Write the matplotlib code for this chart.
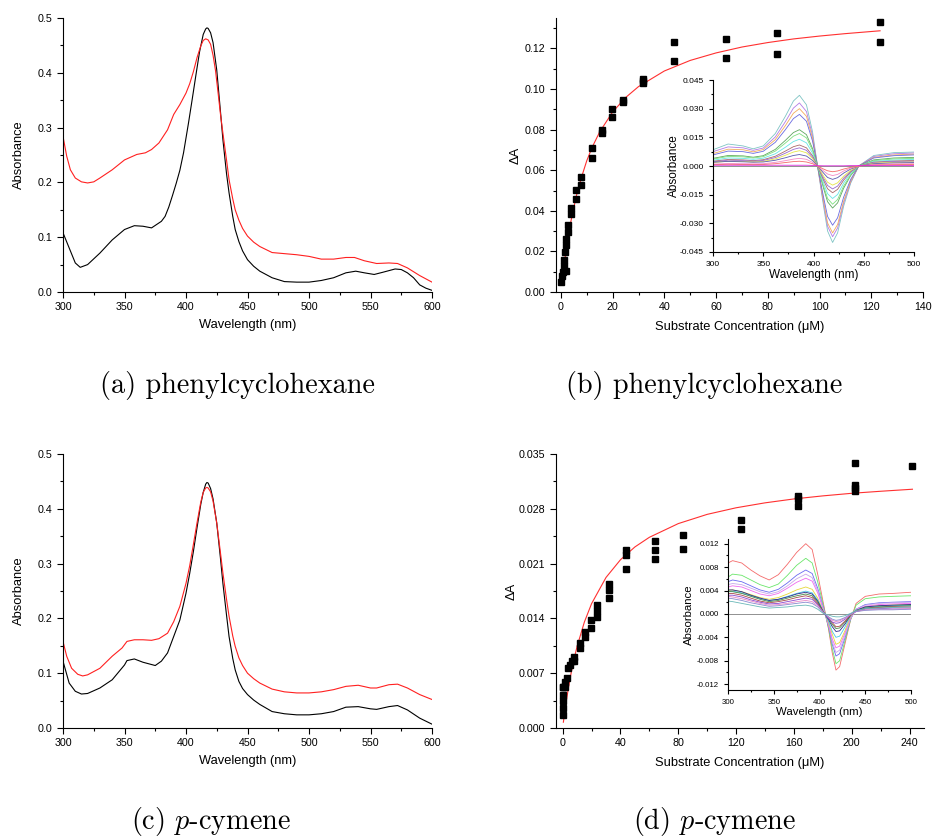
import matplotlib
matplotlib.use("Agg")
import matplotlib.pyplot as plt
from matplotlib.ticker import MultipleLocator, FormatStrFormatter

plt.rcParams["font.family"] = ["Liberation Sans", "DejaVu Sans"]
plt.rcParams["mathtext.fontset"] = "cm"

# ==========================================
# Data: UV-vis spectra (a) phenylcyclohexane
# ==========================================

wl_a_black = [300, 310, 314, 320, 330, 340, 350, 358, 365, 372, 380, 383, 386, 389, 392, 395, 398, 400,
              402, 405, 408, 411, 414, 416, 417, 418, 420, 422, 425, 428, 430, 433, 435, 438, 440, 443,
              446, 450, 455, 460, 470, 480, 490, 500, 510, 520, 530, 538, 545, 553, 560, 570, 575, 580,
              585, 590, 595, 600]
abs_a_black = [0.108, 0.053, 0.045, 0.050, 0.071, 0.095, 0.114, 0.121, 0.120, 0.117, 0.129, 0.138, 0.155,
               0.176, 0.198, 0.222, 0.254, 0.281, 0.308, 0.351, 0.395, 0.438, 0.470, 0.480, 0.482, 0.481,
               0.473, 0.455, 0.405, 0.330, 0.278, 0.215, 0.181, 0.138, 0.114, 0.092, 0.075, 0.059, 0.047,
               0.038, 0.026, 0.019, 0.018, 0.018, 0.021, 0.026, 0.035, 0.038, 0.035, 0.032, 0.036, 0.042,
               0.041, 0.035, 0.026, 0.013, 0.007, 0.003]

wl_a_red = [300, 303, 306, 310, 315, 320, 325, 330, 340, 350, 360, 367, 372, 378, 385, 390, 395, 400, 403,
            406, 409, 412, 414, 416, 418, 420, 422, 424, 426, 428, 430, 433, 435, 438, 440, 443, 446, 450,
            455, 460, 470, 480, 490, 500, 510, 520, 530, 537, 545, 555, 565, 572, 580, 590, 600]
abs_a_red = [0.284, 0.248, 0.223, 0.208, 0.201, 0.199, 0.201, 0.208, 0.223, 0.241, 0.251, 0.254, 0.260,
             0.272, 0.296, 0.324, 0.342, 0.363, 0.380, 0.402, 0.428, 0.449, 0.459, 0.462, 0.460, 0.452,
             0.432, 0.404, 0.365, 0.325, 0.290, 0.240, 0.205, 0.170, 0.150, 0.131, 0.116, 0.102, 0.091,
             0.083, 0.072, 0.070, 0.068, 0.065, 0.060, 0.060, 0.063, 0.063, 0.057, 0.052, 0.053, 0.052,
             0.044, 0.030, 0.018]

# ==========================================
# Data: UV-vis spectra (c) p-cymene
# ==========================================

wl_c_black = [300, 305, 310, 315, 320, 330, 340, 350, 352, 358, 365, 375, 380, 385, 390, 395, 400, 403,
              406, 409, 412, 414, 416, 417, 418, 420, 422, 425, 428, 430, 433, 435, 438, 440, 443, 446,
              450, 455, 460, 470, 480, 490, 500, 510, 520, 530, 540, 550, 555, 565, 572, 580, 590, 600]
abs_c_black = [0.122, 0.082, 0.067, 0.062, 0.063, 0.073, 0.088, 0.115, 0.123, 0.126, 0.120, 0.114, 0.122,
               0.137, 0.167, 0.197, 0.246, 0.282, 0.322, 0.366, 0.408, 0.430, 0.445, 0.448, 0.447, 0.437,
               0.418, 0.374, 0.310, 0.264, 0.205, 0.167, 0.127, 0.106, 0.085, 0.072, 0.061, 0.051, 0.043,
               0.030, 0.026, 0.024, 0.024, 0.026, 0.030, 0.038, 0.039, 0.035, 0.034, 0.039, 0.041, 0.033,
               0.018, 0.007]

wl_c_red = [300, 303, 307, 312, 316, 320, 330, 340, 348, 352, 358, 365, 372, 378, 385, 390, 395, 400, 403,
            406, 409, 412, 414, 416, 417, 418, 420, 422, 425, 428, 430, 433, 435, 438, 440, 443, 446, 450,
            455, 460, 470, 480, 490, 500, 510, 520, 530, 540, 550, 555, 565, 572, 580, 590, 600]
abs_c_red = [0.158, 0.131, 0.109, 0.098, 0.095, 0.097, 0.109, 0.131, 0.146, 0.158, 0.161, 0.161, 0.160,
             0.163, 0.173, 0.194, 0.222, 0.264, 0.296, 0.335, 0.375, 0.412, 0.430, 0.438, 0.439, 0.438,
             0.431, 0.414, 0.374, 0.320, 0.283, 0.234, 0.204, 0.168, 0.149, 0.128, 0.114, 0.100, 0.090,
             0.082, 0.071, 0.066, 0.064, 0.064, 0.066, 0.070, 0.076, 0.078, 0.073, 0.073, 0.079, 0.080,
             0.073, 0.061, 0.052]

# ==========================================
# Data: binding titration (b) phenylcyclohexane
# ==========================================

conc_b = [0.1, 0.4, 0.8, 1.0, 1.3, 1.7, 1.9, 1.9, 2.0, 2.7, 2.7, 3.9, 3.9, 5.9, 5.9, 7.9, 7.9, 11.9, 11.9,
          15.9, 15.9, 19.9, 19.9, 23.9, 23.9, 31.9, 31.9, 31.9, 43.7, 43.7, 63.7, 63.7, 83.6, 83.6,
          123.4, 123.4]
dA_b = [0.0051, 0.0079, 0.0100, 0.0128, 0.0160, 0.0195, 0.0231, 0.0259, 0.0103, 0.0295, 0.0328, 0.0384,
        0.0412, 0.0456, 0.0503, 0.0528, 0.0569, 0.0659, 0.0708, 0.0785, 0.0798, 0.0861, 0.0900, 0.0934,
        0.0946, 0.1028, 0.1040, 0.1048, 0.1139, 0.1234, 0.1151, 0.1248, 0.1174, 0.1275, 0.1233, 0.1328]

fit_conc_b = [0.3, 1, 2, 3, 4, 6, 8, 10, 12, 15, 20, 25, 30, 40, 50, 60, 70, 80, 90, 100, 110, 123.4]
fit_dA_b = [0.0035, 0.0110, 0.0205, 0.0286, 0.0357, 0.0475, 0.0567, 0.0647, 0.0711, 0.0789, 0.0887,
            0.0958, 0.1012, 0.1089, 0.1141, 0.1178, 0.1207, 0.1229, 0.1247, 0.1261, 0.1273, 0.1287]

# inset (b): difference spectra
wl_ins_b = [300, 315, 330, 340, 350, 362, 372, 380, 386, 393, 399, 404, 410, 414, 419, 424, 430, 437,
            445, 460, 480, 500]
diff_b = [
    [0.0085, 0.0115, 0.0105, 0.0090, 0.0105, 0.0170, 0.0260, 0.0340, 0.0370, 0.0320, 0.0180, 0.0000,
     -0.0210, -0.0340, -0.0400, -0.0350, -0.0210, -0.0090, 0.0000, 0.0055, 0.0070, 0.0073],
    [0.0075, 0.0100, 0.0095, 0.0082, 0.0094, 0.0152, 0.0232, 0.0303, 0.0330, 0.0285, 0.0160, 0.0000,
     -0.0194, -0.0315, -0.0370, -0.0324, -0.0194, -0.0083, 0.0000, 0.0050, 0.0064, 0.0068],
    [0.0065, 0.0088, 0.0085, 0.0074, 0.0086, 0.0138, 0.0211, 0.0276, 0.0300, 0.0260, 0.0146, 0.0000,
     -0.0184, -0.0298, -0.0350, -0.0306, -0.0184, -0.0079, 0.0000, 0.0045, 0.0058, 0.0062],
    [0.0058, 0.0078, 0.0075, 0.0066, 0.0077, 0.0124, 0.0190, 0.0248, 0.0270, 0.0234, 0.0131, 0.0000,
     -0.0163, -0.0264, -0.0310, -0.0271, -0.0163, -0.0070, 0.0000, 0.0042, 0.0054, 0.0058],
    [0.0040, 0.0055, 0.0053, 0.0046, 0.0054, 0.0087, 0.0134, 0.0175, 0.0190, 0.0164, 0.0092, 0.0000,
     -0.0116, -0.0187, -0.0220, -0.0193, -0.0116, -0.0050, 0.0000, 0.0032, 0.0042, 0.0045],
    [0.0036, 0.0050, 0.0048, 0.0042, 0.0049, 0.0078, 0.0120, 0.0156, 0.0170, 0.0147, 0.0083, 0.0000,
     -0.0105, -0.0170, -0.0200, -0.0175, -0.0105, -0.0045, 0.0000, 0.0028, 0.0037, 0.0040],
    [0.0030, 0.0042, 0.0040, 0.0035, 0.0041, 0.0064, 0.0098, 0.0128, 0.0140, 0.0121, 0.0068, 0.0000,
     -0.0089, -0.0145, -0.0170, -0.0149, -0.0089, -0.0038, 0.0000, 0.0024, 0.0031, 0.0034],
    [0.0025, 0.0034, 0.0032, 0.0028, 0.0033, 0.0051, 0.0078, 0.0101, 0.0110, 0.0095, 0.0054, 0.0000,
     -0.0074, -0.0119, -0.0140, -0.0122, -0.0074, -0.0031, 0.0000, 0.0020, 0.0026, 0.0029],
    [0.0022, 0.0030, 0.0028, 0.0025, 0.0029, 0.0044, 0.0067, 0.0087, 0.0095, 0.0082, 0.0046, 0.0000,
     -0.0063, -0.0102, -0.0120, -0.0105, -0.0063, -0.0027, 0.0000, 0.0018, 0.0023, 0.0025],
    [0.0018, 0.0025, 0.0024, 0.0021, 0.0024, 0.0037, 0.0056, 0.0073, 0.0080, 0.0069, 0.0039, 0.0000,
     -0.0053, -0.0085, -0.0100, -0.0088, -0.0053, -0.0023, 0.0000, 0.0015, 0.0019, 0.0021],
    [0.0020, 0.0024, 0.0022, 0.0020, 0.0021, 0.0030, 0.0043, 0.0055, 0.0060, 0.0052, 0.0029, 0.0000,
     -0.0037, -0.0060, -0.0070, -0.0061, -0.0037, -0.0016, 0.0000, 0.0012, 0.0016, 0.0018],
    [0.0010, 0.0013, 0.0012, 0.0011, 0.0012, 0.0019, 0.0028, 0.0036, 0.0040, 0.0035, 0.0019, 0.0000,
     -0.0026, -0.0042, -0.0050, -0.0044, -0.0026, -0.0011, 0.0000, 0.0008, 0.0011, 0.0012],
    [0.0007, 0.0009, 0.0008, 0.0007, 0.0008, 0.0012, 0.0018, 0.0023, 0.0025, 0.0021, 0.0012, 0.0000,
     -0.0016, -0.0025, -0.0030, -0.0026, -0.0016, -0.0007, 0.0000, 0.0005, 0.0007, 0.0008],
    [0.0004, 0.0004, 0.0004, 0.0004, 0.0004, 0.0004, 0.0004, 0.0004, 0.0004, 0.0004, 0.0003, 0.0002,
     0.0001, 0.0001, 0.0001, 0.0001, 0.0001, 0.0002, 0.0002, 0.0003, 0.0003, 0.0003],
]
colors_b = ["#7ec4c4", "#b27ae6", "#f2ac5c", "#6a6ae0", "#5fa85f", "#7ee07e", "#66e6e6", "#a86a6a",
            "#9a6ad0", "#e6e64a", "#5a5ab0", "#f48ac8", "#f46a6a", "#d82ad8"]

# ==========================================
# Data: binding titration (d) p-cymene
# ==========================================

conc_d = [0, 0, 0, 0, 0, 0.5, 1.6, 1.6, 2.8, 3.9, 5.0, 6.2, 7.8, 8.1, 12.0, 12.0, 15.7, 15.7, 19.9, 19.9,
          23.8, 23.8, 23.8, 31.9, 31.9, 31.9, 43.5, 43.5, 43.5, 63.6, 63.6, 63.6, 83.5, 83.5, 123.2, 123.2,
          162.5, 162.5, 162.5, 202.3, 202.3, 202.3, 202.3, 242]
dA_d = [0.0017, 0.0026, 0.0034, 0.0042, 0.0052, 0.0053, 0.0052, 0.0059, 0.0064, 0.0077, 0.0081, 0.0085,
        0.0091, 0.0085, 0.0102, 0.0108, 0.0116, 0.0122, 0.0128, 0.0138, 0.0142, 0.0150, 0.0157, 0.0166,
        0.0176, 0.0184, 0.0203, 0.0221, 0.0227, 0.0216, 0.0228, 0.0239, 0.0229, 0.0246, 0.0254, 0.0266,
        0.0283, 0.0293, 0.0296, 0.0303, 0.0306, 0.0310, 0.0338, 0.0335]

fit_conc_d = [0.5, 2, 4, 6, 8, 10, 15, 20, 30, 40, 50, 60, 80, 100, 120, 140, 160, 180, 200, 220, 242]
fit_dA_d = [0.00074, 0.00278, 0.00514, 0.00715, 0.00890, 0.01043, 0.01352, 0.01588, 0.01923, 0.02149,
            0.02313, 0.02436, 0.02611, 0.02729, 0.02813, 0.02876, 0.02926, 0.02965, 0.02998, 0.03024,
            0.0305]

# inset (d): difference spectra
wl_ins_d = [300, 305, 315, 325, 335, 345, 355, 365, 375, 385, 392, 398, 404, 410, 414, 418, 422, 428,
            434, 440, 450, 465, 480, 500]
diff_d = [
    [0.0087, 0.0091, 0.0087, 0.0075, 0.0065, 0.0058, 0.0067, 0.0085, 0.0105, 0.0120, 0.0110, 0.0068,
     0.0020, -0.0027, -0.0067, -0.0096, -0.0090, -0.0050, -0.0010, 0.0018, 0.0030, 0.0034, 0.0035, 0.0037],
    [0.0063, 0.0068, 0.0066, 0.0058, 0.0050, 0.0045, 0.0051, 0.0066, 0.0083, 0.0095, 0.0087, 0.0055,
     0.0016, -0.0025, -0.0060, -0.0085, -0.0080, -0.0045, -0.0010, 0.0015, 0.0026, 0.0029, 0.0030, 0.0031],
    [0.0055, 0.0058, 0.0055, 0.0048, 0.0041, 0.0037, 0.0042, 0.0053, 0.0066, 0.0075, 0.0069, 0.0044,
     0.0012, -0.0022, -0.0052, -0.0072, -0.0068, -0.0040, -0.0008, 0.0008, 0.0016, 0.0019, 0.0020, 0.0021],
    [0.0050, 0.0052, 0.0050, 0.0044, 0.0038, 0.0034, 0.0038, 0.0048, 0.0060, 0.0068, 0.0062, 0.0040,
     0.0010, -0.0020, -0.0048, -0.0066, -0.0062, -0.0036, -0.0008, 0.0008, 0.0015, 0.0018, 0.0019, 0.0020],
    [0.0046, 0.0048, 0.0046, 0.0040, 0.0034, 0.0031, 0.0035, 0.0044, 0.0054, 0.0061, 0.0056, 0.0036,
     0.0008, -0.0018, -0.0043, -0.0058, -0.0055, -0.0032, -0.0006, 0.0007, 0.0013, 0.0016, 0.0017, 0.0018],
    [0.0040, 0.0041, 0.0038, 0.0033, 0.0028, 0.0025, 0.0028, 0.0034, 0.0041, 0.0046, 0.0042, 0.0027,
     0.0006, -0.0015, -0.0035, -0.0052, -0.0049, -0.0028, -0.0004, 0.0006, 0.0012, 0.0014, 0.0015, 0.0016],
    [0.0038, 0.0039, 0.0036, 0.0031, 0.0026, 0.0023, 0.0025, 0.0030, 0.0035, 0.0039, 0.0036, 0.0024,
     0.0005, -0.0013, -0.0030, -0.0040, -0.0038, -0.0022, -0.0003, 0.0006, 0.0011, 0.0013, 0.0014, 0.0015],
    [0.0041, 0.0041, 0.0038, 0.0032, 0.0027, 0.0023, 0.0025, 0.0029, 0.0034, 0.0037, 0.0034, 0.0022,
     0.0004, -0.0010, -0.0022, -0.0030, -0.0029, -0.0017, -0.0002, 0.0006, 0.0012, 0.0014, 0.0015, 0.0016],
    [0.0038, 0.0038, 0.0035, 0.0030, 0.0025, 0.0021, 0.0023, 0.0027, 0.0031, 0.0034, 0.0031, 0.0020,
     0.0004, -0.0008, -0.0018, -0.0025, -0.0024, -0.0014, -0.0002, 0.0005, 0.0010, 0.0012, 0.0013, 0.0014],
    [0.0035, 0.0035, 0.0032, 0.0027, 0.0022, 0.0019, 0.0021, 0.0024, 0.0028, 0.0031, 0.0028, 0.0018,
     0.0003, -0.0007, -0.0015, -0.0022, -0.0021, -0.0012, -0.0002, 0.0005, 0.0009, 0.0011, 0.0012, 0.0012],
    [0.0032, 0.0032, 0.0029, 0.0024, 0.0020, 0.0017, 0.0018, 0.0021, 0.0024, 0.0027, 0.0025, 0.0016,
     0.0003, -0.0008, -0.0014, -0.0016, -0.0015, -0.0009, -0.0001, 0.0004, 0.0008, 0.0009, 0.0010, 0.0010],
    [0.0030, 0.0029, 0.0026, 0.0022, 0.0018, 0.0015, 0.0016, 0.0018, 0.0021, 0.0023, 0.0021, 0.0014,
     0.0003, -0.0006, -0.0011, -0.0013, -0.0012, -0.0007, -0.0001, 0.0004, 0.0007, 0.0008, 0.0008, 0.0009],
    [0.0027, 0.0026, 0.0023, 0.0019, 0.0016, 0.0013, 0.0014, 0.0016, 0.0018, 0.0020, 0.0018, 0.0012,
     0.0002, -0.0005, -0.0009, -0.0011, -0.0010, -0.0006, 0.0000, 0.0004, 0.0006, 0.0007, 0.0007, 0.0008],
    [0.0022, 0.0021, 0.0018, 0.0015, 0.0012, 0.0010, 0.0011, 0.0012, 0.0014, 0.0015, 0.0013, 0.0008,
     0.0001, -0.0002, -0.0004, -0.0005, -0.0005, -0.0003, 0.0001, 0.0006, 0.0009, 0.0010, 0.0011, 0.0012],
]
colors_d = ["#f46a6a", "#6ae66a", "#6a6af0", "#c8a8ec", "#f06af0", "#e6d83a", "#4ac8e8", "#2a2a8a",
            "#4a8a4a", "#a84a4a", "#8a4ad0", "#e88ac8", "#8a8ad0", "#6ab8b8"]

captions = ["(a) phenylcyclohexane", "(b) phenylcyclohexane", "(c) $p$-cymene", "(d) $p$-cymene"]


def style_axes(ax, tick_size, major_len=4, minor_len=2):
    for side in ["top", "right"]:
        ax.spines[side].set_visible(False)
    for side in ["left", "bottom"]:
        ax.spines[side].set_linewidth(0.8)
    ax.tick_params(which="major", direction="out", length=major_len, width=0.8, labelsize=tick_size)
    ax.tick_params(which="minor", direction="out", length=minor_len, width=0.8)


def spectrum_panel(ax, xb, yb, xr, yr):
    ax.plot(xb, yb, color="black", lw=0.8)
    ax.plot(xr, yr, color="#ff2020", lw=0.8)
    ax.set_xlim(300, 600)
    ax.set_ylim(0, 0.5)
    ax.xaxis.set_major_locator(MultipleLocator(50))
    ax.xaxis.set_minor_locator(MultipleLocator(25))
    ax.yaxis.set_major_locator(MultipleLocator(0.1))
    ax.yaxis.set_minor_locator(MultipleLocator(0.05))
    ax.yaxis.set_major_formatter(FormatStrFormatter("%.1f"))
    style_axes(ax, 7.7)
    ax.set_xlabel("Wavelength (nm)", fontsize=9.3, labelpad=5)
    ax.set_ylabel("Absorbance", fontsize=9.3, labelpad=9)


def inset_panel(ax, wl, curves, colors, ylim, ystep, label_size, tick_size, ypad):
    ax.axhline(0, color="#909090", lw=0.7)
    for vals, c in zip(curves, colors):
        ax.plot(wl, vals, color=c, lw=0.6)
    ax.set_xlim(300, 500)
    ax.set_ylim(*ylim)
    ax.xaxis.set_major_locator(MultipleLocator(50))
    ax.xaxis.set_minor_locator(MultipleLocator(25))
    ax.yaxis.set_major_locator(MultipleLocator(ystep))
    ax.yaxis.set_minor_locator(MultipleLocator(ystep / 2))
    ax.yaxis.set_major_formatter(FormatStrFormatter("%.3f"))
    ax.patch.set_alpha(0)
    style_axes(ax, tick_size, major_len=3, minor_len=1.5)
    ax.set_xlabel("Wavelength (nm)", fontsize=label_size, labelpad=1)
    ax.set_ylabel("Absorbance", fontsize=label_size, labelpad=ypad)


fig = plt.figure(figsize=(9.33, 8.4), dpi=100)
W, H = 933.0, 840.0


def add_axes(left, top, right, bottom):
    return fig.add_axes([left / W, 1 - bottom / H, (right - left) / W, (bottom - top) / H])


# (a)
ax_a = add_axes(63, 18, 432, 292)
spectrum_panel(ax_a, wl_a_black, abs_a_black, wl_a_red, abs_a_red)

# (c)
ax_c = add_axes(63, 454, 432, 728)
spectrum_panel(ax_c, wl_c_black, abs_c_black, wl_c_red, abs_c_red)

# (b)
ax_b = add_axes(556, 18, 923, 292)
ax_b.plot(fit_conc_b, fit_dA_b, color="#ff3030", lw=0.8)
ax_b.plot(conc_b, dA_b, "s", color="black", ms=4.2, mec="black")
ax_b.set_xlim(-1.9, 140)
ax_b.set_ylim(0, 0.135)
ax_b.xaxis.set_major_locator(MultipleLocator(20))
ax_b.xaxis.set_minor_locator(MultipleLocator(10))
ax_b.yaxis.set_major_locator(MultipleLocator(0.02))
ax_b.yaxis.set_minor_locator(MultipleLocator(0.01))
ax_b.yaxis.set_major_formatter(FormatStrFormatter("%.2f"))
style_axes(ax_b, 7.7)
ax_b.set_xlabel("Substrate Concentration (\u03bcM)", fontsize=9.3, labelpad=6)
ax_b.set_ylabel("\u0394A", fontsize=9.3, labelpad=2)

ins_b = add_axes(713, 80, 914, 252)
inset_panel(ins_b, wl_ins_b, diff_b, colors_b, (-0.045, 0.045), 0.015, 8.5, 6, 0)

# (d)
ax_d = add_axes(556, 454, 924, 728)
ax_d.plot(fit_conc_d, fit_dA_d, color="#ff3030", lw=0.8)
ax_d.plot(conc_d, dA_d, "s", color="black", ms=4.2, mec="black")
ax_d.set_xlim(-4.6, 250)
ax_d.set_ylim(0, 0.035)
ax_d.xaxis.set_major_locator(MultipleLocator(40))
ax_d.xaxis.set_minor_locator(MultipleLocator(20))
ax_d.yaxis.set_major_locator(MultipleLocator(0.007))
ax_d.yaxis.set_minor_locator(MultipleLocator(0.0035))
ax_d.yaxis.set_major_formatter(FormatStrFormatter("%.3f"))
style_axes(ax_d, 7.7)
ax_d.set_xlabel("Substrate Concentration (\u03bcM)", fontsize=9.3, labelpad=6)
ax_d.set_ylabel("\u0394A", fontsize=9.3, labelpad=1)

ins_d = add_axes(728, 539, 911, 690)
inset_panel(ins_d, wl_ins_d, diff_d, colors_d, (-0.013, 0.0128), 0.004, 8.2, 5.7, 2)

# captions
cap_pos = [(237, 386), (704, 386), (211, 821), (715, 821)]
for (cx, cy), txt in zip(cap_pos, captions):
    fig.text(cx / W, 1 - cy / H, txt, fontfamily="cmr10", fontsize=20.3, ha="center", va="center")

fig.savefig("out.png", dpi=100, facecolor="white")
